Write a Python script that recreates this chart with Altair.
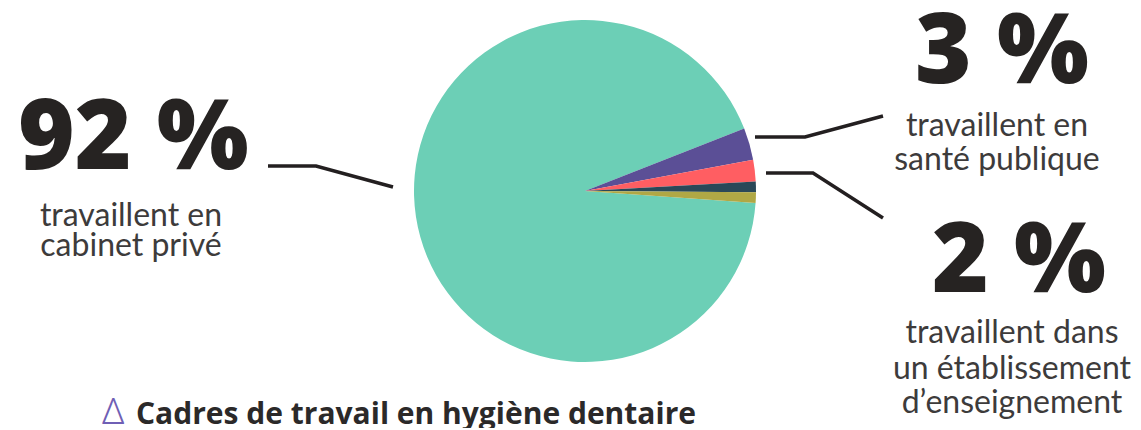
import math
import altair as alt
import pandas as pd

# ---- data ----
categories = ["Cabinet privé", "Santé publique", "Établissement d'enseignement", "Autre", "Non précisé"]
values = [92, 3, 2, 1, 1]
slice_order = [5, 1, 2, 3, 4]
slice_colors = ["#6ccfb6", "#5b4f96", "#ff5e62", "#2a4858", "#b0a845"]

big_labels = ["92 %", "3 %", "2 %"]
sub_labels = ["travaillent en", "cabinet privé",
              "travaillent en", "santé publique",
              "travaillent dans", "un établissement", "d\u2019enseignement"]
title_text = "Cadres de travail en hygiène dentaire"

# ---- layout (page pixels) ----
W, H = 1125, 420
OX, OY = 8, 8
pie_cx, pie_cy, pie_r = 585, 191, 171
start_deg = 68.6

big_x = [18, 915, 932]
big_y = [169, 83, 292]
sub_x = [131, 131, 997, 997, 1012, 1012, 1012]
sub_y = [226, 256, 136, 170, 343, 379, 413]
line_id = [1, 1, 1, 2, 2, 2, 3, 3, 3]
line_pt = [0, 1, 2, 0, 1, 2, 0, 1, 2]
line_x = [268, 316, 393, 755, 805, 883, 766, 813, 883]
line_y = [166, 166, 187, 137, 137, 116, 173, 173, 218]

xs = alt.Scale(domain=[OX, OX + W], nice=False, zero=False)
ys = alt.Scale(domain=[OY, OY + H], nice=False, zero=False, reverse=True)

pie_df = pd.DataFrame({"cat": categories, "val": values, "ord": slice_order})
start = math.radians(start_deg)
pie = alt.Chart(pie_df).mark_arc(radius=pie_r, stroke=None).encode(
    theta=alt.Theta("val:Q", stack=True, scale=alt.Scale(range=[start, start + 2 * math.pi])),
    order=alt.Order("ord:Q"),
    color=alt.Color("cat:N", scale=alt.Scale(domain=categories, range=slice_colors), legend=None),
    x=alt.datum(pie_cx, scale=xs, axis=None),
    y=alt.datum(pie_cy, scale=ys, axis=None),
)

line_df = pd.DataFrame({"id": line_id, "pt": line_pt, "x": line_x, "y": line_y})
lines = alt.Chart(line_df).mark_line(color="#231f20", strokeWidth=3.5, strokeCap="butt").encode(
    x=alt.X("x:Q", scale=xs, axis=None),
    y=alt.Y("y:Q", scale=ys, axis=None),
    detail="id:N",
    order="pt:Q",
)

big_df = pd.DataFrame({"t": big_labels, "x": big_x, "y": big_y})
big = alt.Chart(big_df).mark_text(
    font="Open Sans", fontWeight=800, fontSize=97, align="left", baseline="alphabetic", color="#262322"
).encode(x=alt.X("x:Q", scale=xs, axis=None), y=alt.Y("y:Q", scale=ys, axis=None), text="t:N")

sub_df = pd.DataFrame({"t": sub_labels, "x": sub_x, "y": sub_y})
sub = alt.Chart(sub_df).mark_text(
    font="Lato", fontWeight=400, fontSize=32, align="center", baseline="alphabetic", color="#3d3b3b"
).encode(x=alt.X("x:Q", scale=xs, axis=None), y=alt.Y("y:Q", scale=ys, axis=None), text="t:N")

title_df = pd.DataFrame({"t": [title_text], "x": [136], "y": [424]})
title = alt.Chart(title_df).mark_text(
    font="Open Sans", fontWeight="bold", fontSize=30, align="left", baseline="alphabetic", color="#2b2929"
).encode(x=alt.X("x:Q", scale=xs, axis=None), y=alt.Y("y:Q", scale=ys, axis=None), text="t:N")

delta_df = pd.DataFrame({"t": ["\u0394"], "x": [102], "y": [424]})
delta = alt.Chart(delta_df).mark_text(
    font="Noto Sans", fontWeight=300, fontSize=36, align="left", baseline="alphabetic", color="#6f5fb5"
).encode(x=alt.X("x:Q", scale=xs, axis=None), y=alt.Y("y:Q", scale=ys, axis=None), text="t:N")

chart = alt.layer(pie, lines, big, sub, title, delta).properties(
    width=W, height=H, padding=0, autosize=alt.AutoSizeParams(type="none")
).configure_view(stroke=None).resolve_scale(color="independent")

chart.save("out.html", embed_options={"renderer": "svg", "actions": False})
